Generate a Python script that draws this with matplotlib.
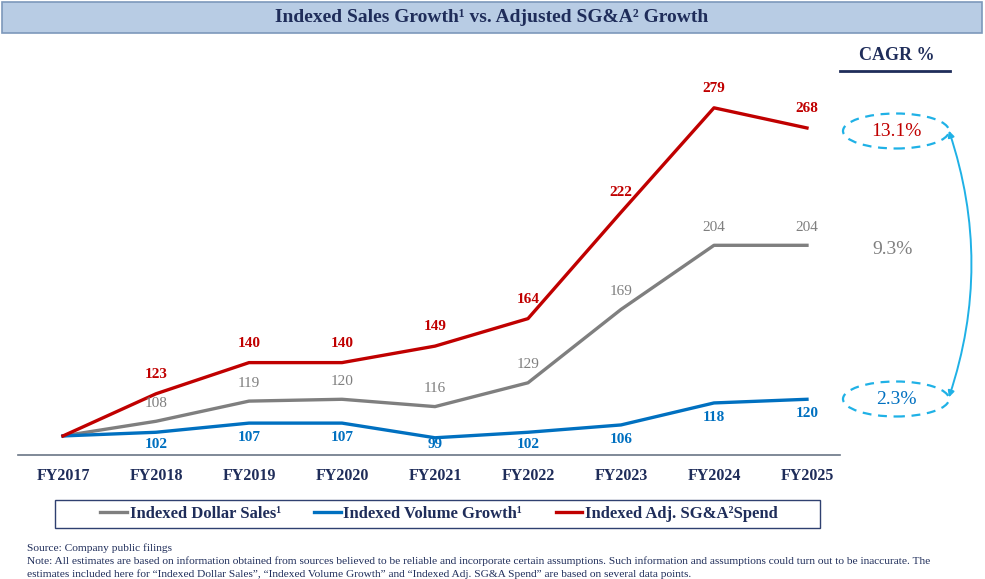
import matplotlib.pyplot as plt
from matplotlib.patches import Rectangle, Ellipse, FancyArrowPatch

plt.rcParams['font.family'] = ['Liberation Serif', 'DejaVu Serif']

years = ['FY2017', 'FY2018', 'FY2019', 'FY2020', 'FY2021',
         'FY2022', 'FY2023', 'FY2024', 'FY2025']
dollar_sales = [100, 108, 119, 120, 116, 129, 169, 204, 204]
volume = [100, 102, 107, 107, 99, 102, 106, 118, 120]
sga = [100, 123, 140, 140, 149, 164, 222, 279, 268]
cagr = ['13.1%', '9.3%', '2.3%']

navy = '#1f2d5a'
gray = '#7f7f7f'
blue = '#0070c0'
red = '#c00000'
cyan = '#1fb1e6'

W, H = 985, 579
fig = plt.figure(figsize=(W / 100, H / 100), dpi=100)


def fx(px):
    return px / W


def fy(py):
    return 1 - py / H


# title bar
fig.patches.append(Rectangle((fx(2), fy(33)), fx(980), 31 / H, transform=fig.transFigure,
                             facecolor='#b8cce4', edgecolor='#7d98bb', lw=1.2))
fig.text(fx(492), fy(17), 'Indexed Sales Growth¹ vs. Adjusted SG&A² Growth',
         ha='center', va='center', fontsize=14, fontweight='bold', color=navy)

ax = fig.add_axes([fx(18), fy(455), fx(822), 415 / H])
x = list(range(len(years)))
ax.plot(x, dollar_sales, color=gray, lw=2.4, label='Indexed Dollar Sales¹')
ax.plot(x, volume, color=blue, lw=2.4, label='Indexed Volume Growth¹')
ax.plot(x, sga, color=red, lw=2.4, label='Indexed Adj. SG&A²Spend')
ax.set_xlim(-0.484, 8.355)
ax.set_ylim(89.6, 316)

for i in x[1:]:
    ax.annotate(str(sga[i]), (i, sga[i]), xytext=(0, 14), textcoords='offset points',
                ha='center', va='center', fontsize=11, fontweight='bold', color=red)
    ax.annotate(str(dollar_sales[i]), (i, dollar_sales[i]), xytext=(0, 13),
                textcoords='offset points', ha='center', va='center', fontsize=11, color=gray)
    # blue labels sit under the line but never below the baseline area
    ax.text(i, max(volume[i] - 8, 95.5), str(volume[i]), ha='center', va='center',
            fontsize=11, fontweight='bold', color=blue)

for s in ['top', 'left', 'right']:
    ax.spines[s].set_visible(False)
ax.spines['bottom'].set_color('#6a7685')
ax.spines['bottom'].set_linewidth(1.2)
ax.set_yticks([])
ax.set_xticks(x)
ax.set_xticklabels(years, fontsize=11.5, fontweight='bold', color=navy)
ax.tick_params(axis='x', length=0, pad=9)

# CAGR column
fig.text(fx(897), fy(55), 'CAGR %', ha='center', va='center', fontsize=13,
         fontweight='bold', color=navy)
fig.lines.append(plt.Line2D([fx(840), fx(950)], [fy(71), fy(71)], transform=fig.transFigure,
                            color=navy, lw=2))
fig.text(fx(896), fy(131), cagr[0], ha='center', va='center', fontsize=14, color=red)
fig.text(fx(893), fy(249), cagr[1], ha='center', va='center', fontsize=14, color=gray)
fig.text(fx(896), fy(399), cagr[2], ha='center', va='center', fontsize=14, color=blue)
for cy in [131, 399]:
    fig.patches.append(Ellipse((fx(896), fy(cy)), fx(106), 35 / H, transform=fig.transFigure,
                               fill=False, edgecolor=cyan, lw=1.6, ls=(0, (4, 3))))
fig.patches.append(FancyArrowPatch((fx(948), fy(128)), (fx(948), fy(400)),
                                   transform=fig.transFigure, connectionstyle='arc3,rad=-0.17',
                                   arrowstyle='<|-|>', mutation_scale=9, color=cyan, lw=1.4))

# legend with its own frame
fig.patches.append(Rectangle((fx(55), fy(528)), fx(765), 28 / H, transform=fig.transFigure,
                             fill=False, edgecolor='#2f4070', lw=1))
leg = fig.legend(loc='center', bbox_to_anchor=(fx(439), fy(514)), ncol=3, frameon=False,
                 handlelength=1.6, handletextpad=0.15, columnspacing=2.0,
                 prop={'size': 12, 'weight': 'bold'})
for t in leg.get_texts():
    t.set_color(navy)

fig.text(fx(27), fy(548), 'Source: Company public filings', fontsize=8.2, color=navy, va='center')
fig.text(fx(27), fy(561), 'Note: All estimates are based on information obtained from sources believed '
         'to be reliable and incorporate certain assumptions. Such information and assumptions could '
         'turn out to be inaccurate. The', fontsize=8.2, color=navy, va='center')
fig.text(fx(27), fy(574), 'estimates included here for \u201cIndexed Dollar Sales\u201d, \u201cIndexed '
         'Volume Growth\u201d and \u201cIndexed Adj. SG&A Spend\u201d are based on several data points.',
         fontsize=8.2, color=navy, va='center')

fig.savefig('out.png', dpi=100)
